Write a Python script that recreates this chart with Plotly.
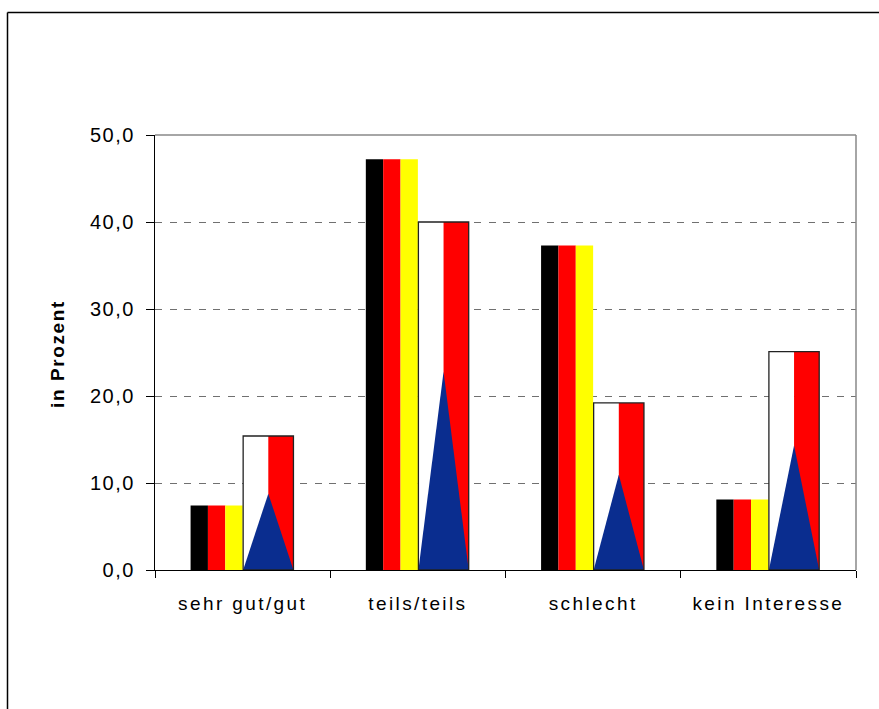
import plotly.graph_objects as go

categories = ["sehr gut/gut", "teils/teils", "schlecht", "kein Interesse"]
deutsch = [7.4, 47.2, 37.3, 8.1]
tschechisch = [15.4, 40.0, 19.2, 25.1]
y_ticks = [0, 10, 20, 30, 40, 50]
y_ticklabels = ["0,0", "10,0", "20,0", "30,0", "40,0", "50,0"]
y_title = "in Prozent"

FONT = "Liberation Sans, Arial, sans-serif"
def spaced(t, ls="2.5px"):
    return f'<span style="letter-spacing:{ls}">{t}</span>'

xs = list(range(len(categories)))
fig = go.Figure()

# German flag bars (three stripes)
stripe_w = 0.099
for k, col in enumerate(["#000000", "#FF0000", "#FFFF00"]):
    fig.add_trace(go.Bar(x=xs, y=deutsch, width=stripe_w, offset=-0.297 + k * stripe_w,
                         marker=dict(color=col, line=dict(width=0)), hoverinfo="skip",
                         showlegend=False))

# Czech flag bars
cz0, cz1 = 0.003, 0.29
czm = (cz0 + cz1) / 2
fig.add_trace(go.Bar(x=xs, y=tschechisch, width=czm - cz0, offset=cz0,
                     marker=dict(color="#FFFFFF", line=dict(width=0)), hoverinfo="skip",
                     showlegend=False))
fig.add_trace(go.Bar(x=xs, y=tschechisch, width=cz1 - czm, offset=czm,
                     marker=dict(color="#FF0000", line=dict(width=0)), hoverinfo="skip",
                     showlegend=False))
for i, v in zip(xs, tschechisch):
    fig.add_trace(go.Scatter(x=[i + cz0, i + czm, i + cz1, i + cz0], y=[0, 0.57 * v, 0, 0],
                             mode="lines", fill="toself", fillcolor="#0A2D8F",
                             line=dict(width=0, color="#0A2D8F"), hoverinfo="skip",
                             showlegend=False))
    fig.add_trace(go.Scatter(x=[i + cz0, i + cz0, i + cz1, i + cz1, i + cz0],
                             y=[0, v, v, 0, 0], mode="lines",
                             line=dict(width=1.3, color="#222222"), hoverinfo="skip",
                             showlegend=False))

fig.update_layout(
    width=879, height=709,
    margin=dict(l=155, r=23, t=135, b=139),
    paper_bgcolor="white", plot_bgcolor="white",
    barmode="overlay", showlegend=False,
    font=dict(family=FONT, size=19, color="black"),
    xaxis=dict(range=[-0.5, 3.5], tickvals=xs, ticktext=[spaced(c, "2.4px") for c in categories],
               ticks="", showgrid=False, zeroline=False, ticklabelstandoff=16,
               showline=True, linecolor="#000000", linewidth=1.3,
               tickfont=dict(family=FONT, size=19, color="black"),
               minor=dict(tickvals=[-0.5, 0.5, 1.5, 2.5, 3.5], ticks="outside", ticklen=7,
                          tickcolor="#000000", tickwidth=1, showgrid=False),
               fixedrange=True),
    yaxis=dict(range=[0, 50], tickvals=y_ticks, ticktext=[spaced(t, "1.5px") for t in y_ticklabels],
               ticks="outside", ticklen=8, tickcolor="#000000", tickwidth=1, ticklabelstandoff=7,
               showline=True, linecolor="#000000", linewidth=1.3,
               showgrid=True, gridcolor="#707070", gridwidth=1, griddash="7px,7.5px",
               zeroline=False, tickfont=dict(family=FONT, size=20, color="black"),
               fixedrange=True),
    shapes=[
        dict(type="line", xref="paper", yref="paper", x0=0, x1=1, y0=1, y1=1,
             line=dict(color="#888888", width=1.5)),
        dict(type="line", xref="paper", yref="paper", x0=1, x1=1, y0=0, y1=1,
             line=dict(color="#888888", width=1.5)),
        # outer chart frame
        dict(type="line", xref="paper", yref="paper", x0=(7.5 - 155) / 701, x1=(885 - 155) / 701,
             y0=(570 - 12.5) / 435, y1=(570 - 12.5) / 435, line=dict(color="#000000", width=1.5)),
        dict(type="line", xref="paper", yref="paper", x0=(7.5 - 155) / 701, x1=(7.5 - 155) / 701,
             y0=(570 - 12.5) / 435, y1=(570 - 715) / 435, line=dict(color="#000000", width=1.5)),
    ],
    annotations=[
        dict(text=f'<b>{spaced(y_title, "1.6px")}</b>', xref="paper", yref="paper",
             x=(57 - 155) / 701, y=(570 - 354) / 435, textangle=-90, showarrow=False,
             font=dict(family=FONT, size=19, color="black"), xanchor="center", yanchor="middle"),
    ],
)

fig.write_html("out.html", config={"displayModeBar": False},
               post_script="document.body.style.margin='0';document.body.style.overflow='hidden';")
